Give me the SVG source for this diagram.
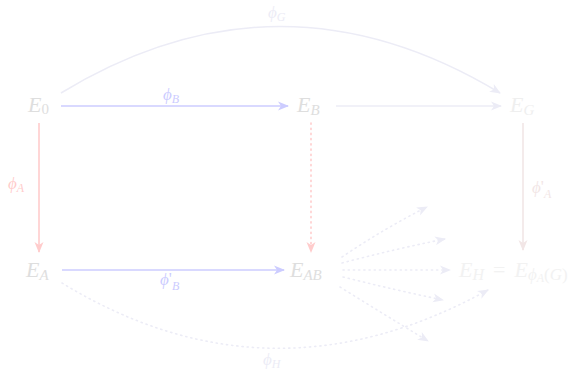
<svg xmlns="http://www.w3.org/2000/svg" width="585" height="372" viewBox="0 0 585 372">
<style>
.n{font-family:"Liberation Serif","DejaVu Serif",serif;font-style:italic;font-size:22px}
.l{font-family:"Liberation Serif","DejaVu Serif",serif;font-style:italic;font-size:17px}
.up{font-style:normal}
.c{fill:none;stroke-width:1.6}
.dot{stroke-dasharray:1.2 4;stroke-linecap:round}
</style>
<defs>
<marker id="mb" markerUnits="userSpaceOnUse" markerWidth="11" markerHeight="10" refX="10" refY="5" orient="auto"><path d="M0,0.5 L11,5 L0,9.5 L3,5z" fill="#ccccff"/></marker>
<marker id="mp" markerUnits="userSpaceOnUse" markerWidth="11" markerHeight="10" refX="10" refY="5" orient="auto"><path d="M0,0.5 L11,5 L0,9.5 L3,5z" fill="#ffcccc"/></marker>
<marker id="ml" markerUnits="userSpaceOnUse" markerWidth="11" markerHeight="10" refX="10" refY="5" orient="auto"><path d="M0,0.5 L11,5 L0,9.5 L3,5z" fill="#ececf6"/></marker>
<marker id="mr" markerUnits="userSpaceOnUse" markerWidth="11" markerHeight="10" refX="10" refY="5" orient="auto"><path d="M0,0.5 L11,5 L0,9.5 L3,5z" fill="#f2e6e6"/></marker>
</defs>
<g id="connectors">
<path class="c" d="M61,106 L288,106" stroke="#ccccff" marker-end="url(#mb)"/>
<path class="c" d="M39,123 L39,252" stroke="#ffcccc" marker-end="url(#mp)"/>
<path class="c" d="M62,270 L284,270" stroke="#ccccff" marker-end="url(#mb)"/>
<path class="c dot" d="M311,123 L311,252" stroke="#ffcccc" stroke-width="2" marker-end="url(#mp)"/>
<path class="c" d="M336,106 L501,106" stroke="#ececf6" marker-end="url(#ml)"/>
<path class="c" d="M61,93 Q280,-40 500,93" stroke="#ececf6" marker-end="url(#ml)"/>
<path class="c" d="M523,123 L523,250" stroke="#f2e6e6" marker-end="url(#mr)"/>
<path class="c dot" d="M342,257 Q385,228 427,207" stroke="#ececf6" stroke-width="2" marker-end="url(#ml)"/>
<path class="c dot" d="M342,263 Q395,249 445,239" stroke="#ececf6" stroke-width="2" marker-end="url(#ml)"/>
<path class="c dot" d="M343,270 L450,270" stroke="#ececf6" stroke-width="2" marker-end="url(#ml)"/>
<path class="c dot" d="M343,277 Q395,290 443,300" stroke="#ececf6" stroke-width="2" marker-end="url(#ml)"/>
<path class="c dot" d="M340,287 Q385,315 428,341" stroke="#ececf6" stroke-width="2" marker-end="url(#ml)"/>
<path class="c dot" d="M62,283 Q270,410 488,290" stroke="#ececf6" stroke-width="2" marker-end="url(#ml)"/>
</g>
<g id="labels">
<text class="l" x="163" y="100" fill="#ccccff">ϕ<tspan font-size="12" dy="3">B</tspan></text>
<text class="l" x="268" y="18" fill="#ececf6">ϕ<tspan font-size="12" dy="3">G</tspan></text>
<text class="l" x="8" y="189" fill="#ffcccc">ϕ<tspan font-size="12" dy="3">A</tspan></text>
<text class="l" x="532" y="193" fill="#f2e6e6">ϕ<tspan class="up" dy="-1">'</tspan><tspan font-size="12" dy="6">A</tspan></text>
<text class="l" x="160" y="285" fill="#ccccff">ϕ<tspan class="up" dy="-1">'</tspan><tspan font-size="12" dy="6">B</tspan></text>
<text class="l" x="263" y="365" fill="#ececf6">ϕ<tspan font-size="12" dy="3">H</tspan></text>
</g>
<g id="E0"><text class="n" x="28" y="112" fill="#dedede">E<tspan class="up" font-size="15" dy="2">0</tspan></text></g>
<g id="EB"><text class="n" x="297" y="112" fill="#dedede">E<tspan font-size="15" dy="3">B</tspan></text></g>
<g id="EG"><text class="n" x="510" y="112" fill="#efefef">E<tspan font-size="15" dy="3">G</tspan></text></g>
<g id="EA"><text class="n" x="26" y="277" fill="#dedede">E<tspan font-size="15" dy="3">A</tspan></text></g>
<g id="EAB"><text class="n" x="290" y="277" fill="#dedede">E<tspan font-size="15" dy="3">AB</tspan></text></g>
<g id="EH"><text class="n" x="459" y="277" fill="#f2f2f2">E<tspan font-size="16" dy="3">H</tspan><tspan class="up" dx="9" dy="-3">=</tspan><tspan dx="9">E</tspan><tspan font-size="17" dy="3">ϕ</tspan><tspan font-size="12" dy="2">A</tspan><tspan class="up" font-size="17" dy="-2">(</tspan><tspan font-size="17">G</tspan><tspan class="up" font-size="17">)</tspan></text></g>
</svg>
